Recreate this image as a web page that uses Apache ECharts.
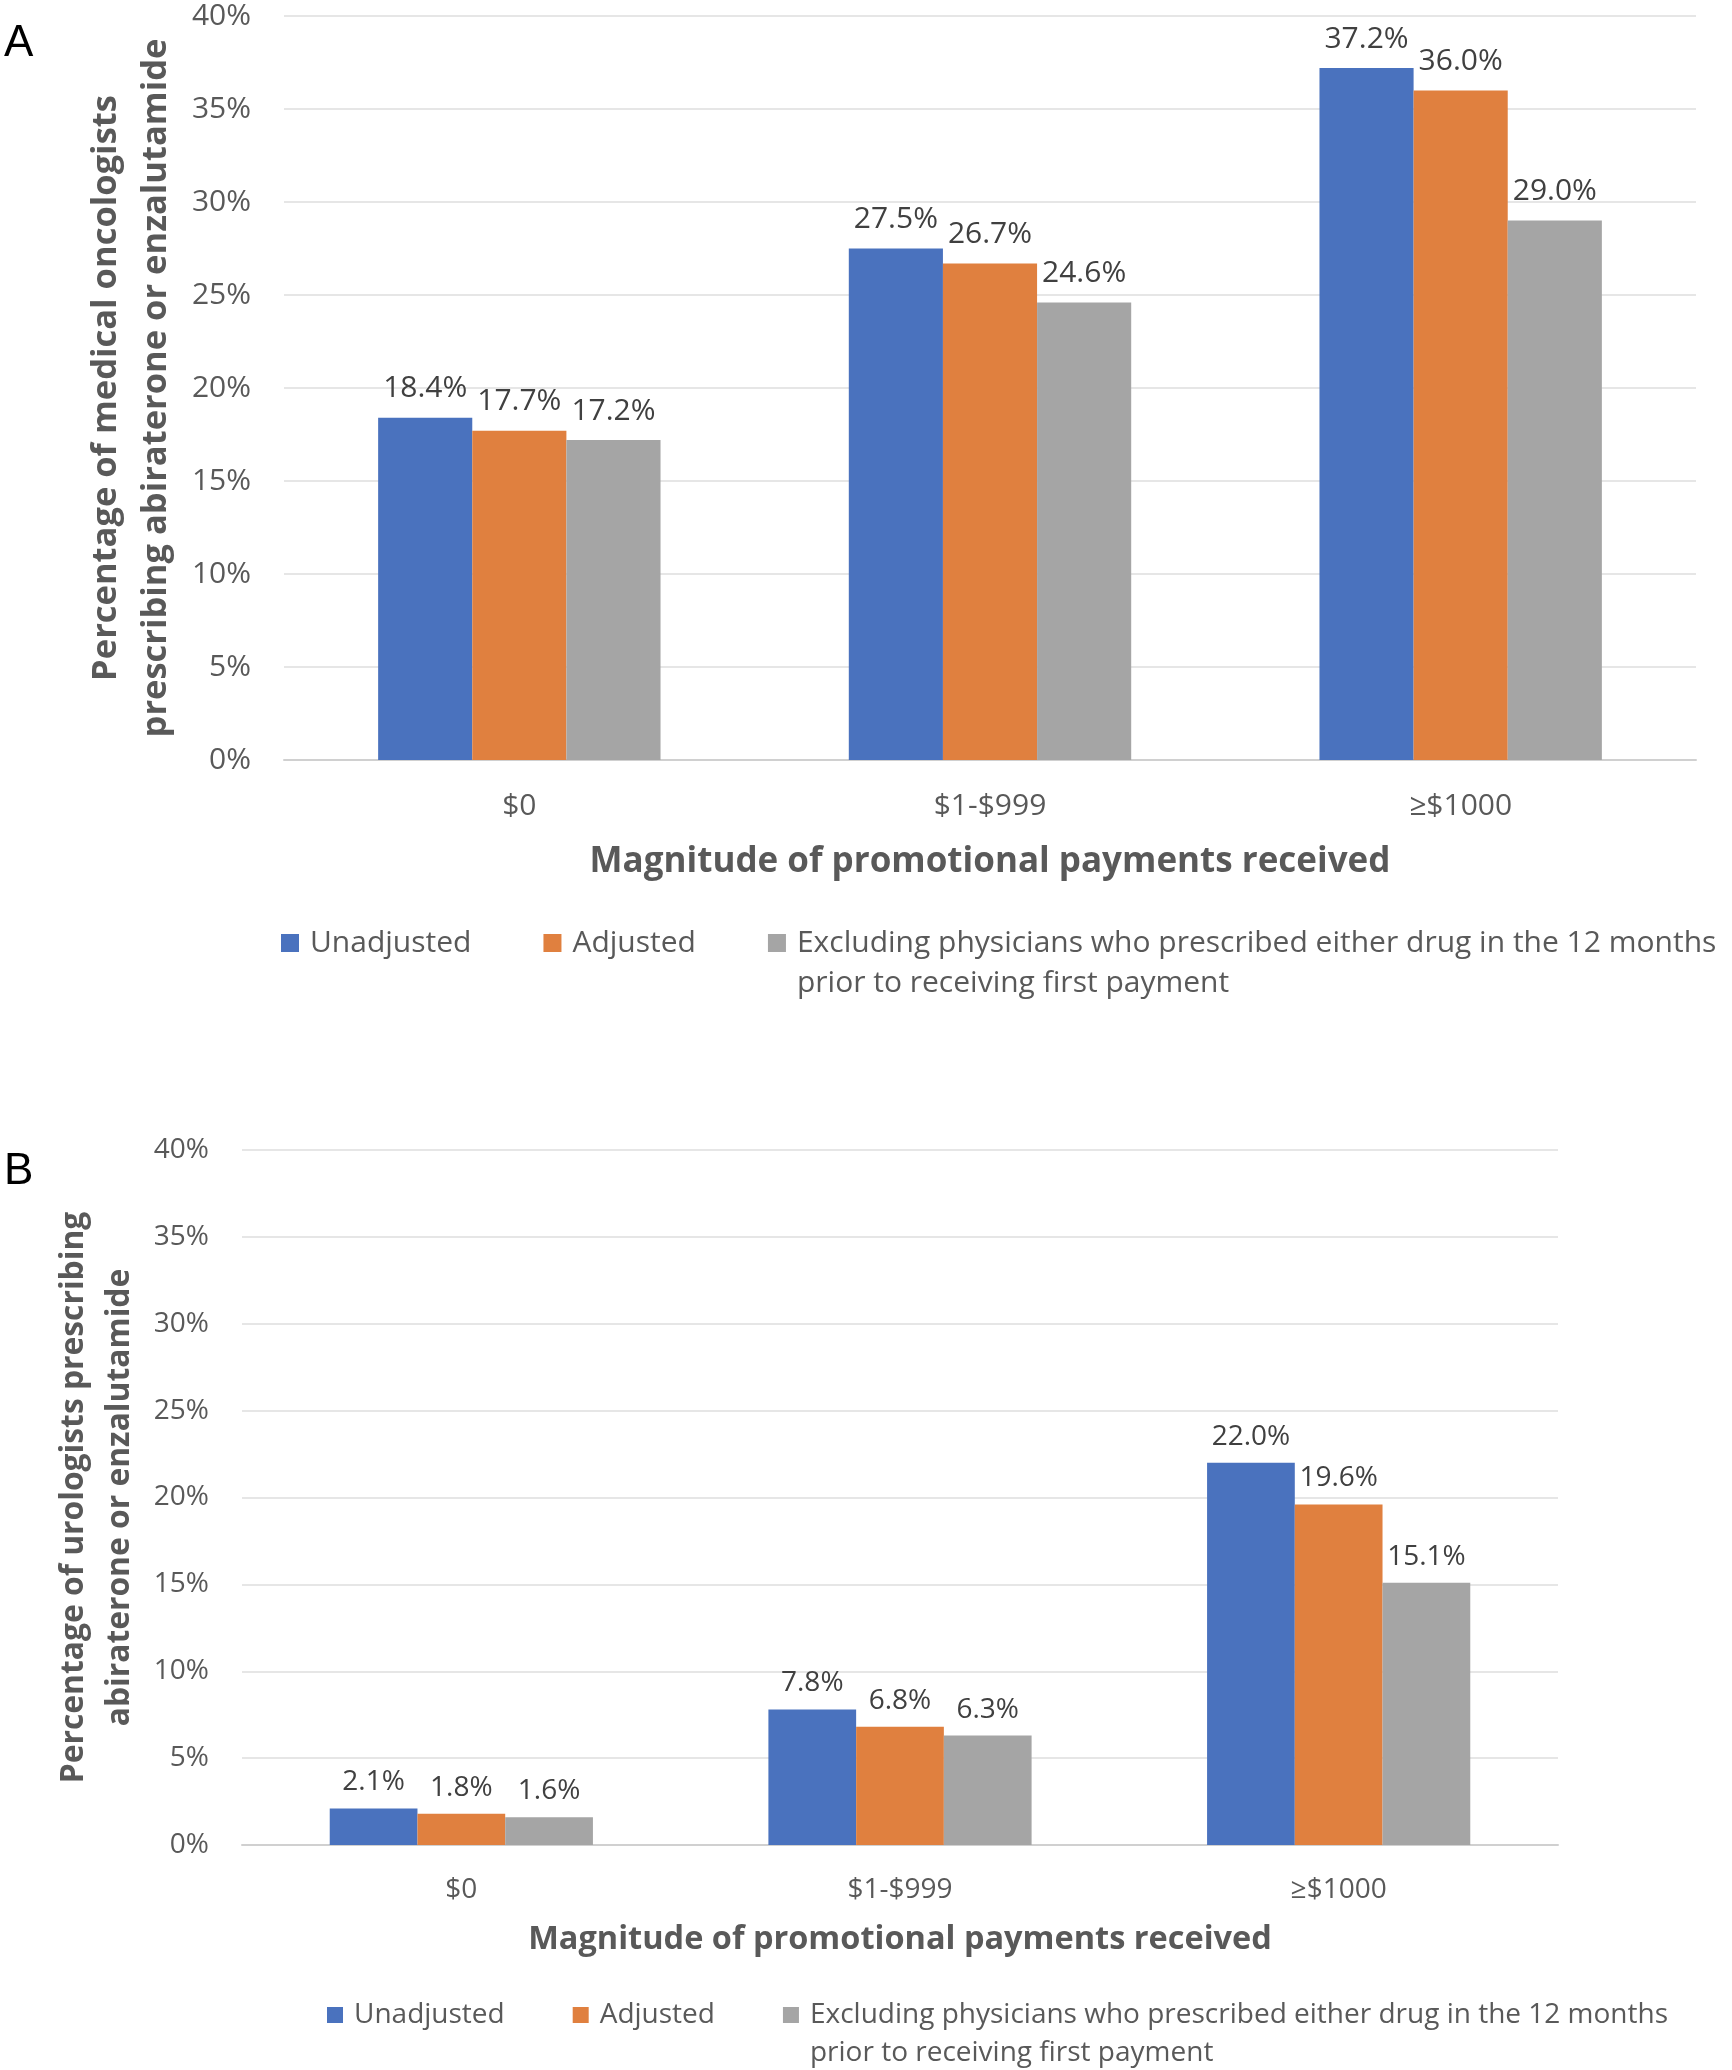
<!DOCTYPE html>
<html>
<head>
<meta charset="utf-8">
<script src="https://cdn.jsdelivr.net/npm/echarts@6/dist/echarts.min.js"></script>
<style>
html, body { margin: 0; padding: 0; background: #fff; }
#chart { width: 1732px; height: 2070px; }
</style>
</head>
<body>
<div id="chart"></div>
<script>
// data
const categories = ['$0', '$1-$999', '≥$1000'];
const seriesNames = [
  'Unadjusted',
  'Adjusted',
  'Excluding physicians who prescribed either drug in the 12 months prior to receiving first payment'
];
const colors = ['#4A72BE', '#E0803F', '#A5A5A5'];

// panel A: medical oncologists
const oncUnadjusted = [18.4, 27.5, 37.2];
const oncAdjusted = [17.7, 26.7, 36.0];
const oncExcluding = [17.2, 24.6, 29.0];

// panel B: urologists
const uroUnadjusted = [2.1, 7.8, 22.0];
const uroAdjusted = [1.8, 6.8, 19.6];
const uroExcluding = [1.6, 6.3, 15.1];

const font = 'Open Sans';
const grey = '#595959';

function legendText(name) {
  // long name wraps onto two lines, short ones get an empty second line
  if (name.indexOf(' prior ') > 0) return name.replace(' prior ', '\nprior ');
  return name + '\n ';
}

function makeBars(data, idx, fontSize, dist) {
  return data.map((vals, i) => ({
    name: seriesNames[i],
    type: 'bar',
    xAxisIndex: idx,
    yAxisIndex: idx,
    data: vals,
    barGap: '0%',
    barCategoryGap: '40%',
    itemStyle: { color: colors[i] },
    label: {
      show: true,
      position: 'top',
      distance: dist,
      fontFamily: font,
      fontSize: fontSize,
      color: '#404040',
      formatter: p => p.value.toFixed(1) + '%'
    }
  }));
}

function xAxis(idx, fontSize, margin, titleSize, nameGap) {
  return {
    type: 'category',
    gridIndex: idx,
    data: categories,
    axisTick: { show: false },
    axisLine: { lineStyle: { color: '#d0d0d0', width: 2 } },
    axisLabel: { fontFamily: font, fontSize: fontSize, color: grey, margin: margin },
    name: 'Magnitude of promotional payments received',
    nameLocation: 'middle',
    nameGap: nameGap,
    nameTextStyle: { fontFamily: font, fontSize: titleSize, fontWeight: 'bold', color: grey }
  };
}

function yAxis(idx, title, fontSize, margin, titleSize, lineHeight, nameGap) {
  return {
    type: 'value',
    gridIndex: idx,
    min: 0,
    max: 40,
    interval: 5,
    axisLine: { show: false },
    axisTick: { show: false },
    splitLine: { lineStyle: { color: '#e6e6e6', width: 2 } },
    axisLabel: { fontFamily: font, fontSize: fontSize, color: grey, margin: margin, formatter: '{value}%' },
    name: title,
    nameLocation: 'middle',
    nameRotate: 90,
    nameGap: nameGap,
    nameTextStyle: { fontFamily: font, fontSize: titleSize, fontWeight: 'bold', color: grey, lineHeight: lineHeight }
  };
}

function legend(top, left, itemGap, size, boxH, fontSize, lineHeight) {
  return {
    top: top,
    left: left,
    padding: 0,
    itemGap: itemGap,
    itemWidth: size,
    itemHeight: boxH,
    icon: 'path://M0,0H' + size + 'V' + size + 'H0ZM0,' + boxH + 'h0.01',
    data: seriesNames,
    formatter: legendText,
    selectedMode: false,
    textStyle: { fontFamily: font, fontSize: fontSize, color: grey, lineHeight: lineHeight, padding: [0, 0, 0, 6] }
  };
}

const chart = echarts.init(document.getElementById('chart'));
chart.setOption({
  animation: false,
  backgroundColor: '#fff',
  grid: [
    { left: 284, right: 36, top: 16, height: 744 },
    { left: 242, right: 174, top: 1150, height: 695 }
  ],
  xAxis: [
    xAxis(0, 30, 31, 35, 85),
    xAxis(1, 28, 31, 32.5, 78)
  ],
  yAxis: [
    yAxis(0, 'Percentage of medical oncologists\nprescribing abiraterone or enzalutamide', 30, 33, 34.5, 50, 88),
    yAxis(1, 'Percentage of urologists prescribing\nabiraterone or enzalutamide', 28, 33, 31.8, 46, 77)
  ],
  legend: [
    legend(923, 281, 72, 18, 58, 30, 40),
    legend(1996, 327, 68, 16, 54, 28, 38)
  ],
  graphic: [
    { type: 'text', left: 4, top: 22, style: { text: 'A', fontFamily: 'Liberation Sans', fontSize: 44, fill: '#000' } },
    { type: 'text', left: 4, top: 1150, style: { text: 'B', fontFamily: 'Liberation Sans', fontSize: 44, fill: '#000' } }
  ],
  series: [
    ...makeBars([oncUnadjusted, oncAdjusted, oncExcluding], 0, 30, 14),
    ...makeBars([uroUnadjusted, uroAdjusted, uroExcluding], 1, 28, 12)
  ]
});
</script>
</body>
</html>
